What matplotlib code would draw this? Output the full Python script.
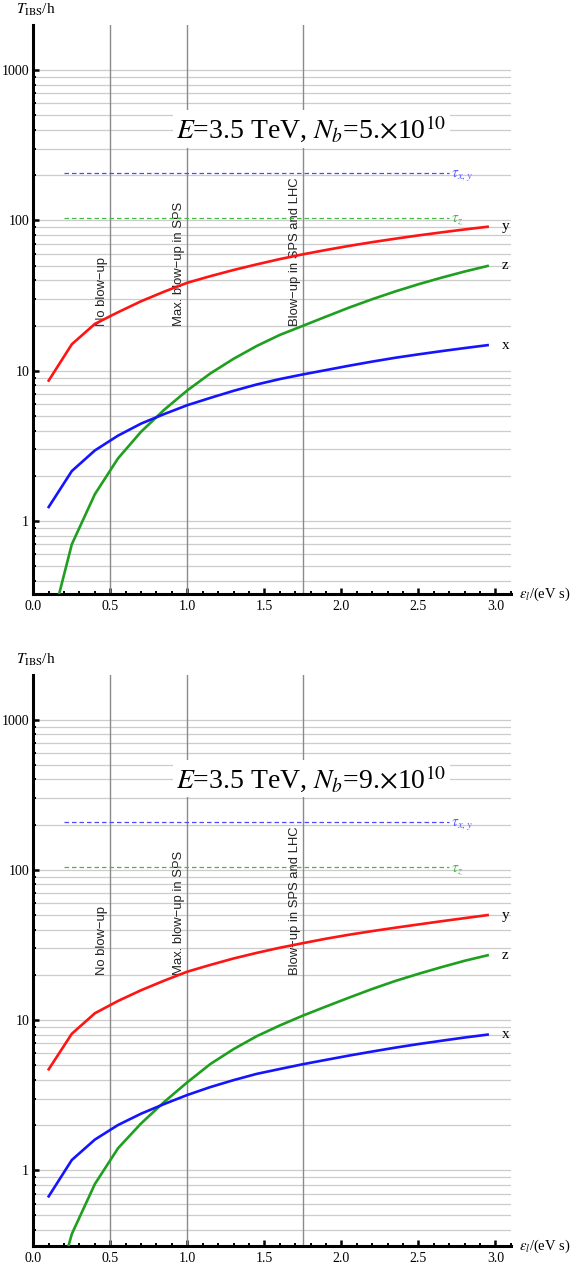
import matplotlib
matplotlib.use('Agg')
import matplotlib.pyplot as plt
from matplotlib.ticker import LogLocator, MultipleLocator, NullFormatter, FixedLocator, FixedFormatter

plt.rcParams['mathtext.fontset'] = 'stix'
plt.rcParams['font.family'] = ['Liberation Serif', 'DejaVu Serif']

# ---- data ----
eps_l = [0.10, 0.25, 0.40, 0.55, 0.70, 0.85, 1.00, 1.15, 1.30, 1.45,
         1.60, 1.75, 1.90, 2.05, 2.20, 2.35, 2.50, 2.65, 2.80, 2.95]

# N_b = 5e10
top_y = [8.6, 15.0, 20.5, 24.5, 29.0, 33.6, 38.5, 42.6, 46.8, 51.0,
         55.3, 59.5, 63.6, 67.7, 71.7, 75.6, 79.5, 83.3, 87.1, 90.8]
top_z = [0.175, 0.70, 1.51, 2.61, 3.93, 5.5, 7.4, 9.6, 12.0, 14.6,
         17.3, 19.9, 22.9, 26.3, 29.9, 33.7, 37.6, 41.6, 45.7, 49.8]
top_x = [1.24, 2.15, 2.95, 3.7, 4.45, 5.15, 5.9, 6.6, 7.35, 8.1,
         8.8, 9.45, 10.1, 10.8, 11.5, 12.2, 12.85, 13.5, 14.15, 14.8]

# N_b = 9e10
bot_y = [4.7, 8.1, 11.1, 13.4, 15.8, 18.3, 21.0, 23.3, 25.7, 28.0,
         30.3, 32.5, 34.8, 37.0, 39.1, 41.2, 43.3, 45.5, 47.7, 50.0]
bot_z = [0.105, 0.376, 0.81, 1.40, 2.05, 2.85, 3.85, 5.1, 6.4, 7.8,
         9.2, 10.7, 12.3, 14.1, 16.1, 18.2, 20.3, 22.5, 24.8, 27.0]
bot_x = [0.67, 1.17, 1.60, 2.0, 2.38, 2.76, 3.17, 3.58, 3.98, 4.38,
         4.72, 5.08, 5.43, 5.80, 6.17, 6.55, 6.92, 7.28, 7.65, 8.0]

tau_xy = 207
tau_z = 104
tau_range = [0.2, 2.7]

marker_pos = [0.5, 1.0, 1.75]
marker_txt = ['No blow\u2212up', 'Max. blow\u2212up in SPS', 'Blow\u2212up in SPS and LHC']

titles = [r'$E$=3.5 TeV, $N_b$=5.$\times$10$^{10}$',
          r'$E$=3.5 TeV, $N_b$=9.$\times$10$^{10}$']

ytick_vals = [1, 10, 100, 1000]
ytick_lbls = ['1', '10', '100', '1000']
xtick_vals = [0.0, 0.5, 1.0, 1.5, 2.0, 2.5, 3.0]
xtick_lbls = ['0.0', '0.5', '1.0', '1.5', '2.0', '2.5', '3.0']

RED = '#ff1414'
GREEN = '#1f9f1f'
BLUE = '#1414ff'

fig = plt.figure(figsize=(5.75, 12.66), dpi=100)
ax_top = fig.add_axes([0.0579, 0.5308, 0.8303, 0.4494])
ax_bot = fig.add_axes([0.0579, 0.0158, 0.8303, 0.4513])

panels = [
    (ax_top, top_y, top_z, top_x, titles[0], (0.327, 1995)),
    (ax_bot, bot_y, bot_z, bot_x, titles[1], (0.313, 1995)),
]

for ax, yv, zv, xv, title, ylim in panels:
    ax.set_yscale('log')
    ax.set_xlim(0, 3.1)
    ax.set_ylim(*ylim)

    for s in ['top', 'right']:
        ax.spines[s].set_visible(False)
    for s in ['left', 'bottom']:
        ax.spines[s].set_linewidth(2.2)

    ax.yaxis.set_major_locator(FixedLocator(ytick_vals))
    ax.yaxis.set_major_formatter(FixedFormatter(ytick_lbls))
    ax.yaxis.set_minor_locator(LogLocator(base=10, subs=[2, 3, 4, 5, 6, 7, 8, 9], numticks=20))
    ax.yaxis.set_minor_formatter(NullFormatter())
    ax.xaxis.set_major_locator(FixedLocator(xtick_vals))
    ax.xaxis.set_major_formatter(FixedFormatter(xtick_lbls))
    ax.xaxis.set_minor_locator(MultipleLocator(0.1))

    ax.tick_params(which='major', direction='in', length=4.5, width=1.8,
                   labelsize=10, pad=3)
    ax.tick_params(which='minor', direction='in', length=2.5, width=1.4)
    ax.tick_params(axis='x', which='major', pad=4)

    ax.grid(True, which='both', axis='y', color='#cccccc', lw=0.9)
    ax.set_axisbelow(True)

    for xp, txt in zip(marker_pos, marker_txt):
        ax.axvline(xp, color='#8a8a8a', lw=1.0, zorder=1)
        ax.annotate(txt, xy=(xp, 20), xytext=(-1.5, 0), textcoords='offset points',
                    rotation=90, ha='right', va='bottom', fontsize=9.4,
                    family=['Liberation Sans', 'DejaVu Sans'], color='#222222', zorder=2)

    ax.plot(tau_range, [tau_xy, tau_xy], color='#4a4aff', lw=0.9,
            dashes=(3.6, 2.4), zorder=2)
    ax.plot(tau_range, [tau_z, tau_z], color='#44bb44', lw=0.9,
            dashes=(3.6, 2.4), zorder=2)
    ax.annotate(r'$\tau_{x,y}$', xy=(2.71, tau_xy), xytext=(0, -2.5),
                textcoords='offset points', ha='left', va='baseline',
                fontsize=11, color='#5a5aff')
    ax.annotate(r'$\tau_{z}$', xy=(2.71, tau_z), xytext=(0, -2.5),
                textcoords='offset points', ha='left', va='baseline',
                fontsize=11, color='#44bb44')

    ax.plot(eps_l, yv, color=RED, lw=1.9, zorder=3)
    ax.plot(eps_l, zv, color=GREEN, lw=1.9, zorder=3)
    ax.plot(eps_l, xv, color=BLUE, lw=1.9, zorder=3)

    for lab, vals in (('y', yv), ('z', zv), ('x', xv)):
        ax.text(3.065, vals[-1], lab, ha='center', va='center', fontsize=11,
                clip_on=False, zorder=4)

    ax.text(1.806, 352, title, ha='center', va='baseline', fontsize=20, zorder=5,
            bbox=dict(boxstyle='square,pad=0.12', facecolor='white', edgecolor='none'))

    ax.text(-0.036, 1.026, r'$T_{\rm IBS}$/h', transform=ax.transAxes,
            ha='left', va='center', fontsize=11)
    ax.text(1.018, 0.0, r'$\epsilon_l$/(eV s)', transform=ax.transAxes,
            ha='left', va='center', fontsize=10.5)

fig.savefig('out.png', dpi=100)
